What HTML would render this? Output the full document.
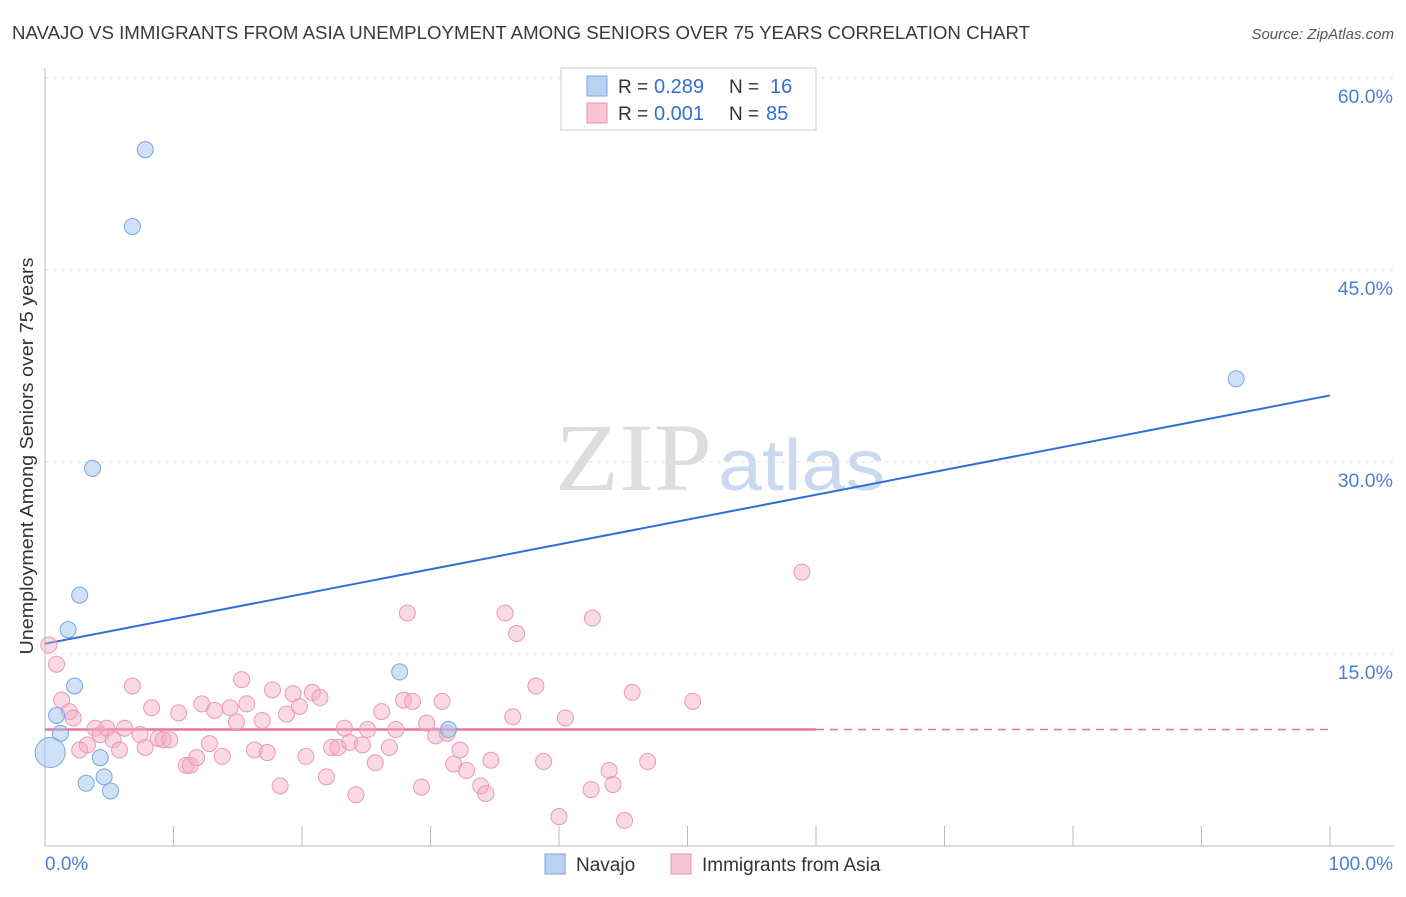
<!DOCTYPE html>
<html><head><meta charset="utf-8"><style>
body{margin:0;background:#fff;font-family:"Liberation Sans",sans-serif;}
svg text{font-family:"Liberation Sans",sans-serif;}
</style></head><body>
<svg id="chart" width="1406" height="892" xmlns="http://www.w3.org/2000/svg">
<text x="12" y="39" font-size="18" fill="#3a3a3a" textLength="1018" lengthAdjust="spacingAndGlyphs">NAVAJO VS IMMIGRANTS FROM ASIA UNEMPLOYMENT AMONG SENIORS OVER 75 YEARS CORRELATION CHART</text>
<text x="1394" y="39" font-size="15" fill="#555" font-style="italic" text-anchor="end">Source: ZipAtlas.com</text>
<text transform="translate(33,456) rotate(-90)" font-size="18" fill="#333" text-anchor="middle" textLength="397" lengthAdjust="spacingAndGlyphs">Unemployment Among Seniors over 75 years</text>
<g>
<text x="555" y="490" font-size="96" fill="#ddd" style="font-family:'Liberation Serif',serif" textLength="157" lengthAdjust="spacingAndGlyphs">ZIP</text>
<text x="718" y="490" font-size="72" fill="#c9d9f0" textLength="167" lengthAdjust="spacingAndGlyphs">atlas</text>
</g>
<g id="grid"></g><g id="axes"></g><g id="lines"></g><g id="points"></g>
<g>
<rect x="561" y="68" width="255" height="62" fill="#fff" stroke="#ccc"/>
<rect x="587" y="76" width="20" height="20" fill="#b8d2f3" stroke="#7aa5df"/>
<text x="618" y="93" font-size="19" fill="#333">R =</text>
<text x="654" y="93" font-size="20" fill="#2f6fd6">0.289</text>
<text x="729" y="93" font-size="19" fill="#333">N =</text>
<text x="770" y="93" font-size="20" fill="#2f6fd6">16</text>
<rect x="587" y="103" width="20" height="20" fill="#f8c6d4" stroke="#e890aa"/>
<text x="618" y="120" font-size="19" fill="#333">R =</text>
<text x="654" y="120" font-size="20" fill="#2f6fd6">0.001</text>
<text x="729" y="120" font-size="19" fill="#333">N =</text>
<text x="766" y="120" font-size="20" fill="#2f6fd6">85</text>
</g>
<g>
<rect x="545" y="854" width="20" height="20" fill="#b8d2f3" stroke="#7aa5df"/>
<text x="576" y="871" font-size="19" fill="#333">Navajo</text>
<rect x="671" y="854" width="20" height="20" fill="#f8c6d4" stroke="#e890aa"/>
<text x="702" y="871" font-size="19" fill="#333">Immigrants from Asia</text>
</g>
</svg>
<script>
const yTicks=[15,30,45,60];
const xTickLabels=["0.0%","100.0%"];
const navX=[7.8,6.8,3.7,2.7,1.8,2.3,0.9,1.2,0.4,4.3,3.2,4.6,5.1,27.6,31.4,92.7];
const navY=[54.4,48.4,29.5,19.6,16.9,12.5,10.2,8.8,7.3,6.9,4.9,5.4,4.3,13.6,9.1,36.5];
const navR=[8,8,8,8,8,8,8,8,15,8,8,8,8,8,8,8];
const asX=[0.3,0.9,1.3,1.9,2.2,2.7,3.3,3.9,4.3,4.8,5.3,5.8,6.2,6.8,7.4,7.8,8.3,8.8,9.2,9.7,10.4,11.0,11.3,11.8,12.2,12.8,13.2,13.8,14.4,14.9,15.3,15.7,16.3,16.9,17.3,17.7,18.3,18.8,19.3,19.8,20.3,20.8,21.4,21.9,22.3,22.8,23.3,23.7,24.2,24.7,25.1,25.7,26.2,26.8,27.3,27.9,28.2,28.6,29.3,29.7,30.4,30.9,31.3,31.8,32.3,32.8,33.9,34.3,34.7,35.8,36.4,36.7,38.2,38.8,40.0,40.5,42.5,42.6,43.9,44.2,45.1,45.7,46.9,50.4,58.9];
const asY=[15.7,14.2,11.4,10.5,10.0,7.5,7.9,9.2,8.7,9.2,8.3,7.5,9.2,12.5,8.7,7.7,10.8,8.4,8.3,8.3,10.4,6.3,6.3,6.9,11.1,8.0,10.6,7.0,10.8,9.7,13.0,11.1,7.5,9.8,7.3,12.2,4.7,10.3,11.9,10.9,7.0,12.0,11.6,5.4,7.7,7.7,9.2,8.1,4.0,7.9,9.1,6.5,10.5,7.7,9.1,11.4,18.2,11.3,4.6,9.6,8.6,11.3,8.8,6.4,7.5,5.9,4.7,4.1,6.7,18.2,10.1,16.6,12.5,6.6,2.3,10.0,4.4,17.8,5.9,4.8,2.0,12.0,6.6,11.3,21.4];
const navTrend=[15.8,35.2];
const asTrend=[9.1,9.1];
const X=v=>45+v*12.85, Y=v=>846-v*12.8;
const NS="http://www.w3.org/2000/svg";
function mk(p,t,a){const e=document.createElementNS(NS,t);for(const k in a)e.setAttribute(k,a[k]);p.appendChild(e);return e;}
const g=document.getElementById('grid'),ax=document.getElementById('axes'),ln=document.getElementById('lines'),pt=document.getElementById('points');
yTicks.forEach(t=>{
const l=mk(g,'line',{x1:45,x2:1394,y1:Y(t),y2:Y(t),stroke:'#e2e2e2','stroke-dasharray':'4 4'});


const tx=mk(g,'text',{x:1393,y:Y(t)+25,'font-size':19.5,fill:'#4a7fd4','text-anchor':'end'});tx.textContent=t.toFixed(1)+'%';


});
const xa=mk(ax,'line',{x1:45,x2:1394,y1:846,y2:846,stroke:'#bbb'});


const ya=mk(ax,'line',{x1:45,x2:45,y1:68,y2:846,stroke:'#bbb'});


for(let i=0;i<=10;i++){const t=mk(ax,'line',{x1:X(i*10),x2:X(i*10),y1:826,y2:846,stroke:'#bbb'});

}
const l0=mk(ax,'text',{x:45,y:870,'font-size':19,fill:'#4a7fd4'});l0.textContent=xTickLabels[0];


const l1=mk(ax,'text',{x:1393,y:870,'font-size':19,fill:'#4a7fd4','text-anchor':'end'});l1.textContent=xTickLabels[1];


asX.forEach((x,i)=>{const c=mk(pt,'circle',{cx:X(x),cy:Y(asY[i]),r:8,fill:'rgba(245,170,195,0.45)',stroke:'#e99ab3','stroke-width':1});

});
navX.forEach((x,i)=>{const c=mk(pt,'circle',{cx:X(x),cy:Y(navY[i]),r:navR[i],fill:'rgba(160,195,240,0.5)',stroke:'#7aa5df','stroke-width':1});

});
const bt=mk(ln,'line',{x1:X(0),x2:X(100),y1:Y(navTrend[0]),y2:Y(navTrend[1]),stroke:'#2f6fd6','stroke-width':2});


const pt1=mk(ln,'line',{x1:X(0),x2:X(60),y1:Y(asTrend[0]),y2:Y(asTrend[0]+(asTrend[1]-asTrend[0])*0.6),stroke:'#e8759a','stroke-width':2.5});


const pt2=mk(ln,'line',{x1:X(60),x2:X(100),y1:Y(asTrend[0]+(asTrend[1]-asTrend[0])*0.6),y2:Y(asTrend[1]),stroke:'#e8759a','stroke-width':1.5,'stroke-dasharray':'8 6'});


</script>
</body></html>
